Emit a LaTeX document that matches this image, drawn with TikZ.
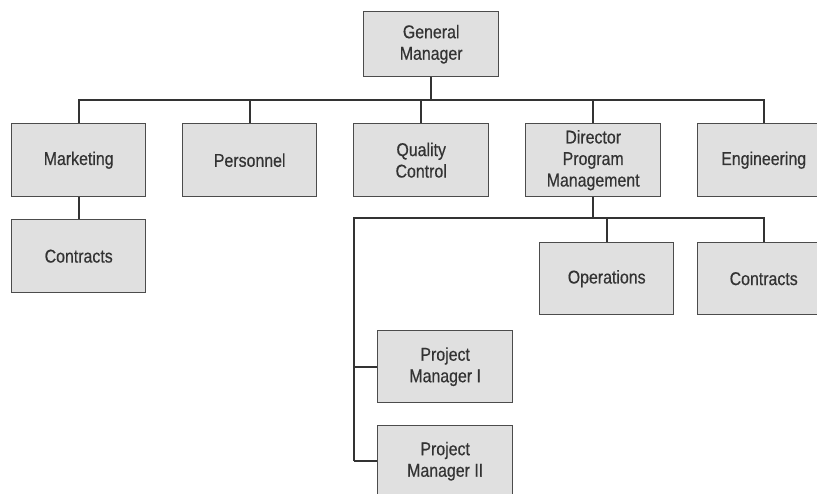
\documentclass[tikz,border=0pt]{standalone}
\usepackage{fontspec}
\setmainfont{Liberation Sans}[FakeStretch=0.86,FakeBold=0.4]
\begin{document}
\begin{tikzpicture}[x=1pt,y=-1pt,
  orgbox/.style={draw=black!70,line width=1.4pt,fill=black!12,text=black!80,
    align=center,font=\fontsize{18.5}{21.5}\selectfont,anchor=north west,inner sep=0pt},
  link/.style={draw=black!80,line width=2pt}]
\useasboundingbox (0,0) rectangle (817,494);
\begin{scope}
\clip (0,0) rectangle (817,494);
\node[orgbox,minimum width=135pt,minimum height=65pt] (gm) at (363,11) {General\\Manager};
\node[orgbox,minimum width=134pt,minimum height=73pt] (mkt) at (11,123) {Marketing};
\node[orgbox,minimum width=134pt,minimum height=73pt] (per) at (182,123) {Personnel};
\node[orgbox,minimum width=135pt,minimum height=73pt] (qc) at (353,123) {Quality\\Control};
\node[orgbox,minimum width=135pt,minimum height=73pt] (dpm) at (525,123) {Director\\Program\\Management};
\node[orgbox,minimum width=132pt,minimum height=73pt] (eng) at (697,123) {Engineering};
\node[orgbox,minimum width=134pt,minimum height=73pt] (con1) at (11,219) {Contracts};
\node[orgbox,minimum width=134pt,minimum height=72pt] (ops) at (539,242) {Operations};
\node[orgbox,minimum width=132pt,minimum height=72pt] (con2) at (697,242) {Contracts};
\node[orgbox,minimum width=135pt,minimum height=72pt] (pm1) at (377,330) {Project\\Manager I};
\node[orgbox,minimum width=135pt,minimum height=71pt] (pm2) at (377,425) {Project\\Manager II};
\end{scope}
\coordinate (h1) at (0,100);
\coordinate (h2) at (0,218);
\coordinate (v) at (354,0);
% top level
\draw[link] (gm.south) -- (gm.south |- h1);
\draw[link] (mkt.north) -- (mkt.north |- h1) -- (eng.north |- h1) -- (eng.north);
\draw[link] (per.north) -- (per.north |- h1);
\draw[link] (qc.north) -- (qc.north |- h1);
\draw[link] (dpm.north) -- (dpm.north |- h1);
\draw[link] (mkt.south) -- (con1.north);
% director level
\draw[link] (dpm.south) -- (dpm.south |- h2);
\draw[link] (v |- pm2.west) -- (v |- h2) -- (con2.north |- h2) -- (con2.north);
\draw[link] (ops.north) -- (ops.north |- h2);
\draw[link] (pm1.west) -- (v |- pm1.west);
\draw[link] (pm2.west) -- (v |- pm2.west);
\end{tikzpicture}
\end{document}
